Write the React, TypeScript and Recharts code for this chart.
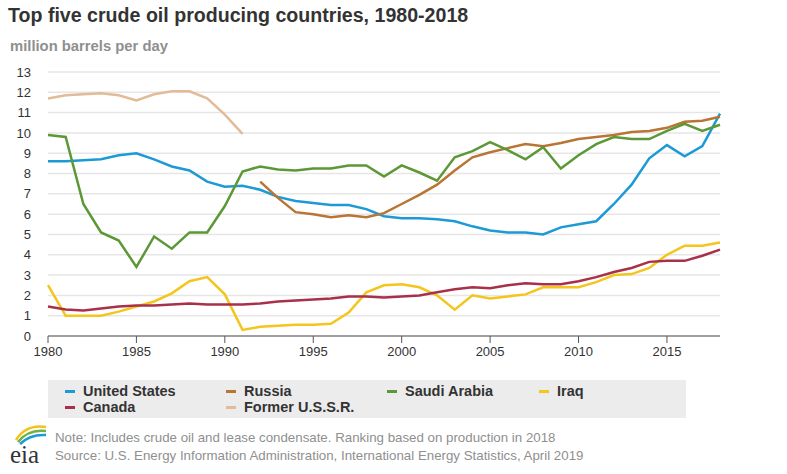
import { LineChart, Line, XAxis, YAxis, CartesianGrid } from 'recharts';

const years = [
  1980, 1981, 1982, 1983, 1984, 1985, 1986, 1987, 1988, 1989,
  1990, 1991, 1992, 1993, 1994, 1995, 1996, 1997, 1998, 1999,
  2000, 2001, 2002, 2003, 2004, 2005, 2006, 2007, 2008, 2009,
  2010, 2011, 2012, 2013, 2014, 2015, 2016, 2017, 2018,
];

const unitedStates = [
  8.6, 8.6, 8.65, 8.7, 8.9, 9.0, 8.7, 8.35, 8.15, 7.6,
  7.35, 7.4, 7.2, 6.85, 6.65, 6.55, 6.45, 6.45, 6.25, 5.9,
  5.8, 5.8, 5.75, 5.65, 5.4, 5.2, 5.1, 5.1, 5.0, 5.35,
  5.5, 5.65, 6.5, 7.45, 8.75, 9.4, 8.85, 9.35, 10.95,
];

const russia = [
  null, null, null, null, null, null, null, null, null, null,
  null, null, 7.6, 6.8, 6.1, 6.0, 5.85, 5.95, 5.85, 6.05,
  6.5, 6.95, 7.45, 8.15, 8.8, 9.05, 9.25, 9.45, 9.35, 9.5,
  9.7, 9.8, 9.9, 10.05, 10.1, 10.25, 10.55, 10.6, 10.8,
];

const saudiArabia = [
  9.9, 9.8, 6.5, 5.1, 4.7, 3.4, 4.9, 4.3, 5.1, 5.1,
  6.4, 8.1, 8.35, 8.2, 8.15, 8.25, 8.25, 8.4, 8.4, 7.85,
  8.4, 8.05, 7.65, 8.8, 9.1, 9.55, 9.15, 8.7, 9.3, 8.25,
  8.9, 9.45, 9.8, 9.7, 9.7, 10.1, 10.45, 10.1, 10.4,
];

const iraq = [
  2.5, 1.0, 1.0, 1.0, 1.2, 1.45, 1.7, 2.1, 2.7, 2.9,
  2.05, 0.3, 0.45, 0.5, 0.55, 0.55, 0.6, 1.15, 2.15, 2.5,
  2.55, 2.4, 2.0, 1.3, 2.0, 1.85, 1.95, 2.05, 2.4, 2.4,
  2.4, 2.65, 3.0, 3.05, 3.35, 4.0, 4.45, 4.45, 4.6,
];

const canada = [
  1.45, 1.3, 1.25, 1.35, 1.45, 1.5, 1.5, 1.55, 1.6, 1.55,
  1.55, 1.55, 1.6, 1.7, 1.75, 1.8, 1.85, 1.95, 1.95, 1.9,
  1.95, 2.0, 2.15, 2.3, 2.4, 2.35, 2.5, 2.6, 2.55, 2.55,
  2.7, 2.9, 3.15, 3.35, 3.65, 3.7, 3.7, 3.95, 4.25,
];

const formerUSSR = [
  11.7, 11.85, 11.9, 11.95, 11.85, 11.6, 11.9, 12.05, 12.05, 11.7,
  10.9, 9.95, null, null, null, null, null, null, null, null,
  null, null, null, null, null, null, null, null, null, null,
  null, null, null, null, null, null, null, null, null,
];

const xTicks = [1980, 1985, 1990, 1995, 2000, 2005, 2010, 2015];
const yTicks = [0, 1, 2, 3, 4, 5, 6, 7, 8, 9, 10, 11, 12, 13];

const series = [
  { key: 'us', name: 'United States', color: '#1b9ad6' },
  { key: 'russia', name: 'Russia', color: '#b87533' },
  { key: 'saudi', name: 'Saudi Arabia', color: '#5c9835' },
  { key: 'iraq', name: 'Iraq', color: '#f4c51c' },
  { key: 'canada', name: 'Canada', color: '#a8304a' },
  { key: 'ussr', name: 'Former U.S.S.R.', color: '#e2bb98' },
];

const data = years.map((year, i) => ({
  year,
  us: unitedStates[i],
  russia: russia[i],
  saudi: saudiArabia[i],
  iraq: iraq[i],
  canada: canada[i],
  ussr: formerUSSR[i],
}));

const font = '"Liberation Sans", Arial, sans-serif';

function LegendItem({ name, color, left, top }: { name: string; color: string; left: number; top: number }) {
  return (
    <div style={{ position: 'absolute', left, top, height: 16, display: 'flex', alignItems: 'center' }}>
      <span style={{ width: 10, height: 3, background: color, marginRight: 8 }} />
      <span style={{ fontSize: 14.5, lineHeight: '16px', fontWeight: 'bold', color: '#333' }}>{name}</span>
    </div>
  );
}

export default function App() {
  const cols = [65, 226, 387, 539];
  return (
    <div style={{ position: 'absolute', left: 0, top: 0, width: 787, height: 474, background: '#fff', fontFamily: font, overflow: 'hidden' }}>
      <div style={{ position: 'absolute', left: 8, top: 4, fontSize: 19.6, fontWeight: 'bold', color: '#333', whiteSpace: 'nowrap' }}>
        Top five crude oil producing countries, 1980-2018
      </div>
      <div style={{ position: 'absolute', left: 10, top: 38, fontSize: 14.8, fontWeight: 'bold', color: '#8f8f8f', whiteSpace: 'nowrap' }}>
        million barrels per day
      </div>
      <div style={{ position: 'absolute', left: 0, top: 0 }}>
        <LineChart width={787} height={370} data={data} margin={{ top: 72, right: 67, bottom: 4, left: 0 }}>
          <CartesianGrid vertical={false} stroke="#e6e6e6" strokeWidth={1.5} />
          <XAxis
            dataKey="year"
            type="number"
            domain={[1980, 2018]}
            ticks={xTicks}
            interval={0}
            stroke="#555"
            tick={{ fill: '#333', fontSize: 13, fontFamily: font }}
            tickSize={7}
            tickMargin={4}
            height={30}
          />
          <YAxis
            domain={[0, 13]}
            ticks={yTicks}
            interval={0}
            axisLine={false}
            tickLine={false}
            tickSize={0}
            tickMargin={17}
            width={48}
            tick={{ fill: '#333', fontSize: 13, fontFamily: font }}
          />
          {series.map((s) => (
            <Line
              key={s.key}
              dataKey={s.key}
              name={s.name}
              stroke={s.color}
              strokeWidth={2.5}
              dot={false}
              type="linear"
              isAnimationActive={false}
            />
          ))}
        </LineChart>
      </div>
      <div style={{ position: 'absolute', left: 48, top: 380, width: 638, height: 38, background: '#ececec' }}>
        {series.map((s, i) => (
          <LegendItem
            key={s.key}
            name={s.name}
            color={s.color}
            left={(i < 4 ? cols[i] : cols[i - 4]) - 48}
            top={i < 4 ? 3 : 19}
          />
        ))}
      </div>
      <svg style={{ position: 'absolute', left: 6, top: 418 }} width={44} height={50}>
        <path d="M10 22 Q20 6 40 9" stroke="#f2c21b" strokeWidth={2.5} fill="none" />
        <path d="M12 24 Q22 11 40 13" stroke="#6fb23f" strokeWidth={2.5} fill="none" />
        <path d="M14 26 Q24 16 40 17" stroke="#1d9ad6" strokeWidth={2.5} fill="none" />
        <text x={4} y={45} fontSize={25} fontFamily='"Liberation Serif", serif' fill="#333">eia</text>
      </svg>
      <div style={{ position: 'absolute', left: 55, top: 429, fontSize: 13.3, color: '#8f8f8f', lineHeight: '18px', whiteSpace: 'nowrap' }}>
        <div>Note: Includes crude oil and lease condensate. Ranking based on production in 2018</div>
        <div>Source: U.S. Energy Information Administration, International Energy Statistics, April 2019</div>
      </div>
    </div>
  );
}
